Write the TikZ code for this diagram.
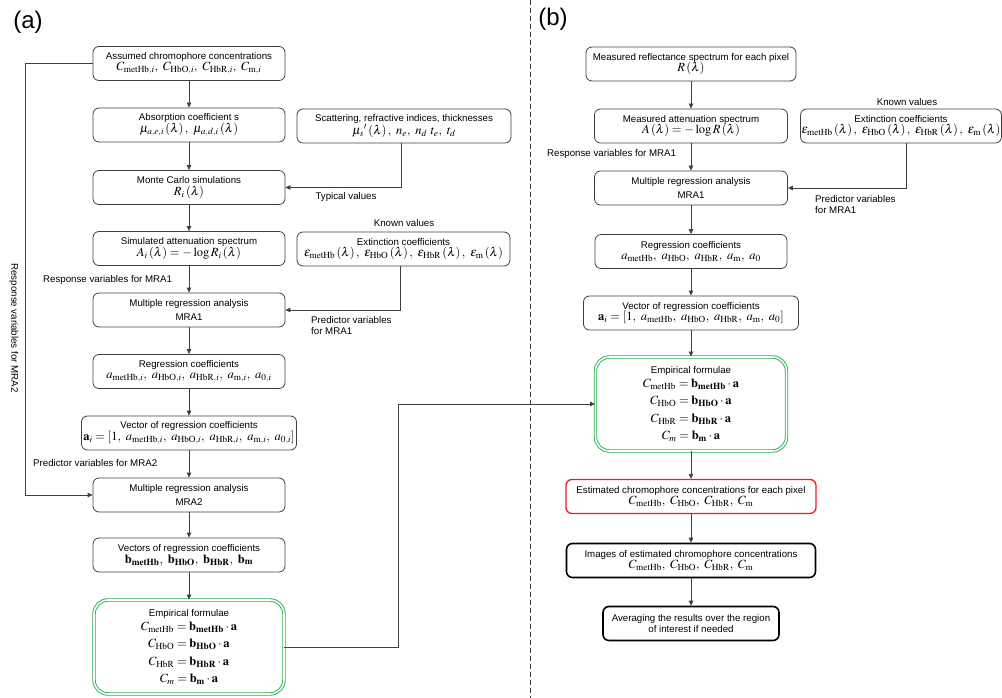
\documentclass[tikz,border=0pt]{standalone}
\usepackage{mathptmx}
\usepackage[no-math]{fontspec}
\setmainfont{Liberation Sans}
\usetikzlibrary{arrows.meta}
\definecolor{linegray}{RGB}{64,64,64}
\definecolor{boxgreen}{RGB}{34,177,76}
\definecolor{boxred}{RGB}{237,28,36}
\newcommand{\mth}[1]{{\fontsize{12.5}{14}\selectfont$#1$}}
\tikzset{
  box/.style={draw=linegray, line width=0.8pt, rounded corners=6pt, minimum width=#1,
    minimum height=34pt, align=center, inner sep=1pt, font=\fontsize{9.7}{11.6}\selectfont},
  box/.default=192pt,
  empbox/.style={draw=boxgreen, double=white, double distance=1.6pt, line width=0.9pt,
    rounded corners=14pt, align=center, inner sep=1pt, font=\fontsize{9.7}{11.6}\selectfont},
  estbox/.style={box=#1, draw=boxred, line width=1.3pt},
  imgbox/.style={box=#1, draw=black, line width=1.6pt},
  lbl/.style={inner sep=0pt, font=\fontsize{9.7}{11.6}\selectfont},
  arr/.style={draw=linegray, line width=0.8pt, -{Triangle[length=5pt,width=4.5pt]}}
}
\begin{document}
\begin{tikzpicture}[x=1pt, y=-1pt]
\useasboundingbox (0,0) rectangle (1002,698);
\node[inner sep=0pt, font=\fontsize{24}{28}\selectfont] (parta) at (28,22) {(a)};
\node[inner sep=0pt, font=\fontsize{24}{28}\selectfont] (partb) at (553,19) {(b)};
\coordinate (sepTop) at (530,0);
\coordinate (sepBot) at (530,698);
\draw[linegray, line width=0.7pt, dash pattern=on 5pt off 3pt] (sepTop) -- (sepBot);

% (a) Monte Carlo side
\node[box] (conc) at (189,63.5) {Assumed chromophore concentrations\\ \mth{C_{\mathrm{metHb},i},\ C_{\mathrm{HbO},i},\ C_{\mathrm{HbR},i},\ C_{\mathrm{m},i}}};
\node[box] (absorb) at (189,125) {Absorption coefficient s\\ \mth{\mu_{a,e,i}\left(\lambda\right),\ \mu_{a,d,i}\left(\lambda\right)}};
\node[box=214pt] (scatter) at (404,126) {Scattering, refractive indices, thicknesses\\ \mth{\mu_s{}'\left(\lambda\right),\ n_e,\ n_d\ t_e,\ t_d}};
\node[box] (mc) at (189,187.5) {Monte Carlo simulations\\ \mth{R_i\left(\lambda\right)}};
\node[box] (simatt) at (189,248.5) {Simulated attenuation spectrum\\ \mth{A_i\left(\lambda\right) = -\log R_i\left(\lambda\right)}};
\node[box=213pt] (extA) at (403.5,249) {Extinction coefficients\\ \mth{\varepsilon_{\mathrm{metHb}}\left(\lambda\right),\ \varepsilon_{\mathrm{HbO}}\left(\lambda\right),\ \varepsilon_{\mathrm{HbR}}\left(\lambda\right),\ \varepsilon_{\mathrm{m}}\left(\lambda\right)}};
\node[box] (mraA) at (189,310) {Multiple regression analysis\\[2pt] MRA1};
\node[box] (regA) at (189,371.5) {Regression coefficients\\ \mth{a_{\mathrm{metHb},i},\ a_{\mathrm{HbO},i},\ a_{\mathrm{HbR},i},\ a_{\mathrm{m},i},\ a_{0,i}}};
\node[box=215pt] (vecA) at (189,433) {Vector of regression coefficients\\ \mth{\mathbf{a}_i = \left[1,\ a_{\mathrm{metHb},i},\ a_{\mathrm{HbO},i},\ a_{\mathrm{HbR},i},\ a_{\mathrm{m},i},\ a_{0,i}\right]}};
\node[box] (mraB) at (189,495) {Multiple regression analysis\\[2pt] MRA2};
\node[box] (vecb) at (189,555) {Vectors of regression coefficients\\ \mth{\mathbf{b}_{\mathbf{metHb}},\ \mathbf{b}_{\mathbf{HbO}},\ \mathbf{b}_{\mathbf{HbR}},\ \mathbf{b}_{\mathbf{m}}}};
\node[empbox, minimum width=190pt, minimum height=94pt] (empA) at (189,647) {Empirical formulae\\[2pt]
  \mth{C_{\mathrm{metHb}} = \mathbf{b}_{\mathbf{metHb}}\cdot\mathbf{a}}\\[5pt]
  \mth{C_{\mathrm{HbO}} = \mathbf{b}_{\mathbf{HbO}}\cdot\mathbf{a}}\\[7pt]
  \mth{C_{\mathrm{HbR}} = \mathbf{b}_{\mathbf{HbR}}\cdot\mathbf{a}}\\[5pt]
  \mth{C_m = \mathbf{b}_{\mathbf{m}}\cdot\mathbf{a}}};

\node[lbl] (typical) at (346,197) {Typical values};
\node[lbl] (knownA) at (404,223) {Known values};
\node[lbl, anchor=west] (respA) at (43,280) {Response variables for MRA1};
\node[lbl, anchor=north west, align=left] (predA) at (311,316) {Predictor variables\\ for MRA1};
\node[lbl, anchor=west] (predB) at (33,463) {Predictor variables for MRA2};
\node[lbl, rotate=-90] (respB) at (14,328) {Response variables for MRA2};

\draw[arr] (conc) -- (absorb);
\draw[arr] (absorb) -- (mc);
\draw[arr] (mc) -- (simatt);
\draw[arr] (simatt) -- (mraA);
\draw[arr] (mraA) -- (regA);
\draw[arr] (regA) -- (vecA);
\draw[arr] (vecA) -- (mraB);
\draw[arr] (mraB) -- (vecb);
\draw[arr] (vecb) -- (empA);
\draw[arr] ([xshift=-3pt]scatter.south) |- (mc.east);
\draw[arr] ([xshift=-3pt]extA.south) |- (mraA.east);
\coordinate (fb) at (25,495);
\draw[arr] (conc.west) -| (fb) -- (mraB.west);

% (b) measured pixels
\node[box=210pt] (refl) at (691,64) {Measured reflectance spectrum for each pixel\\ \mth{R\left(\lambda\right)}};
\node[box=193pt] (meas) at (691,126) {Measured attenuation spectrum\\ \mth{A\left(\lambda\right) = -\log R\left(\lambda\right)}};
\node[box=200pt] (extB) at (901,126) {Extinction coefficients\\ \mth{\varepsilon_{\mathrm{metHb}}\left(\lambda\right),\ \varepsilon_{\mathrm{HbO}}\left(\lambda\right),\ \varepsilon_{\mathrm{HbR}}\left(\lambda\right),\ \varepsilon_{\mathrm{m}}\left(\lambda\right)}};
\node[box=193pt] (mraC) at (691,188) {Multiple regression analysis\\[2pt] MRA1};
\node[box] (regB) at (691,251.5) {Regression coefficients\\ \mth{a_{\mathrm{metHb}},\ a_{\mathrm{HbO}},\ a_{\mathrm{HbR}},\ a_{\mathrm{m}},\ a_0}};
\node[box=215pt] (vecB) at (691,313) {Vector of regression coefficients\\ \mth{\mathbf{a}_i = \left[1,\ a_{\mathrm{metHb}},\ a_{\mathrm{HbO}},\ a_{\mathrm{HbR}},\ a_{\mathrm{m}},\ a_0\right]}};
\node[empbox, minimum width=191pt, minimum height=94pt] (empB) at (691,404) {Empirical formulae\\[2pt]
  \mth{C_{\mathrm{metHb}} = \mathbf{b}_{\mathbf{metHb}}\cdot\mathbf{a}}\\[5pt]
  \mth{C_{\mathrm{HbO}} = \mathbf{b}_{\mathbf{HbO}}\cdot\mathbf{a}}\\[7pt]
  \mth{C_{\mathrm{HbR}} = \mathbf{b}_{\mathbf{HbR}}\cdot\mathbf{a}}\\[5pt]
  \mth{C_m = \mathbf{b}_{\mathbf{m}}\cdot\mathbf{a}}};
\node[estbox=250pt] (est) at (691,496.5) {Estimated chromophore concentrations for each pixel\\ \mth{C_{\mathrm{metHb}},\ C_{\mathrm{HbO}},\ C_{\mathrm{HbR}},\ C_{\mathrm{m}}}};
\node[imgbox=249pt] (img) at (691,560.5) {Images of estimated chromophore concentrations\\ \mth{C_{\mathrm{metHb}},\ C_{\mathrm{HbO}},\ C_{\mathrm{HbR}},\ C_{\mathrm{m}}}};
\node[imgbox=176pt] (avg) at (691,623.5) {Averaging the results over the region\\ of interest if needed};

\node[lbl] (knownB) at (907,102) {Known values};
\node[lbl, anchor=west] (respC) at (547,154) {Response variables for MRA1};
\node[lbl, anchor=north west, align=left] (predC) at (815,195) {Predictor variables\\ for MRA1};

\draw[arr] (refl) -- (meas);
\draw[arr] (meas) -- (mraC);
\draw[arr] (mraC) -- (regB);
\draw[arr] (regB) -- (vecB);
\draw[arr] (vecB) -- (empB);
\draw[arr] (empB) -- (est);
\draw[arr] (est) -- (img);
\draw[arr] (img) -- (avg);
\draw[arr] ([xshift=5pt]extB.south) |- (mraC.east);
\coordinate (lk) at (398,0);
\draw[arr] (empA.east) -| (lk |- empB.west) -- (empB.west);
\end{tikzpicture}
\end{document}
